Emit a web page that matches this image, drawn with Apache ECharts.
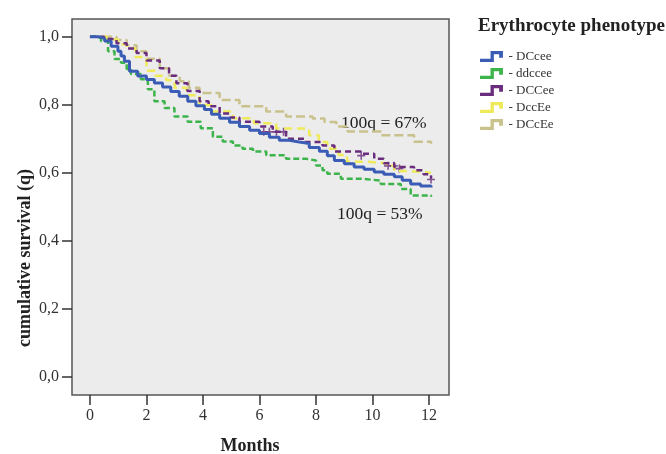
<!DOCTYPE html>
<html>
<head>
<meta charset="utf-8">
<script src="https://cdn.jsdelivr.net/npm/echarts@6/dist/echarts.min.js"></script>
<style>html,body{margin:0;padding:0;background:#fff}#c{width:666px;height:454px}</style>
</head>
<body>
<div id="c"></div>
<script>
var seriesNames = ['DCcee', 'ddccee', 'DCCee', 'DccEe', 'DCcEe'];
var xTicks = [0, 2, 4, 6, 8, 10, 12];
var yTicks = [0, 0.2, 0.4, 0.6, 0.8, 1.0];
var xAxisTitle = 'Months';
var yAxisTitle = 'cumulative survival (q)';

var dCcee = [[0,1],[0.3,0.995],[0.52,0.987],[0.75,0.972],[0.99,0.957],[1.1,0.943],[1.22,0.928],[1.4,0.898],[1.69,0.884],[2.0,0.874],[2.28,0.864],[2.57,0.852],[2.86,0.839],[3.16,0.825],[3.46,0.81],[3.75,0.797],[4.05,0.786],[4.3,0.772],[4.59,0.76],[4.94,0.748],[5.29,0.736],[5.65,0.725],[6.0,0.715],[6.35,0.704],[6.7,0.695],[7.05,0.69],[7.41,0.686],[7.76,0.674],[8.12,0.663],[8.4,0.65],[8.65,0.636],[9.0,0.626],[9.35,0.617],[9.7,0.61],[10.06,0.602],[10.4,0.595],[10.77,0.588],[11.05,0.578],[11.35,0.567],[11.7,0.561],[12.07,0.556]];
var ddccee = [[0,1],[0.25,0.995],[0.39,0.987],[0.64,0.957],[0.87,0.934],[1.1,0.923],[1.3,0.905],[1.45,0.89],[1.8,0.875],[2.05,0.845],[2.28,0.81],[2.64,0.79],[2.99,0.765],[3.46,0.75],[3.92,0.731],[4.35,0.706],[4.7,0.692],[5.06,0.68],[5.4,0.67],[5.77,0.662],[6.24,0.651],[6.94,0.641],[7.64,0.636],[8.0,0.621],[8.23,0.607],[8.4,0.597],[8.88,0.582],[9.59,0.577],[10.29,0.567],[11.0,0.552],[11.35,0.533],[12.07,0.529]];
var dCCee = [[0,1],[0.5,0.993],[0.94,0.981],[1.3,0.965],[1.65,0.952],[2.0,0.93],[2.47,0.907],[2.8,0.885],[3.06,0.863],[3.45,0.84],[3.88,0.81],[4.2,0.795],[4.59,0.774],[4.94,0.762],[5.29,0.75],[6.0,0.736],[6.47,0.72],[6.94,0.7],[7.64,0.69],[8.23,0.68],[8.65,0.662],[9.59,0.656],[10.06,0.641],[10.4,0.628],[10.77,0.617],[11.47,0.607],[11.8,0.595],[12.07,0.582]];
var dccEe = [[0,1],[0.6,0.992],[1.0,0.978],[1.3,0.966],[1.6,0.94],[2.0,0.9],[2.3,0.885],[2.7,0.872],[3.0,0.85],[3.42,0.828],[3.88,0.799],[4.3,0.78],[5.06,0.76],[5.8,0.745],[6.59,0.73],[7.41,0.73],[7.76,0.71],[8.1,0.69],[8.4,0.67],[8.8,0.652],[9.1,0.632],[9.8,0.628],[10.5,0.62],[10.77,0.605],[11.3,0.6],[12.07,0.6]];
var dCcEe = [[0,1],[0.94,0.99],[1.3,0.975],[1.65,0.957],[2.0,0.935],[2.47,0.907],[2.8,0.885],[3.18,0.869],[3.5,0.85],[3.88,0.834],[4.59,0.814],[5.29,0.795],[6.24,0.78],[6.94,0.765],[7.88,0.759],[8.3,0.749],[8.72,0.736],[9.12,0.721],[10.3,0.71],[11.47,0.691],[12.07,0.685]];
var dCCeeCensored = [[6.15,0.72],[6.35,0.72],[6.6,0.72],[6.85,0.72],[9.6,0.65],[10.55,0.62],[10.75,0.62],[10.95,0.612],[12.07,0.58]];

var fontSerif = '"Liberation Serif", "DejaVu Serif", serif';
var colors = ['#3a5cb5', '#3cb44b', '#6a2c7c', '#eeea5a', '#c9c28c'];
var stepIcon = 'path://M0,8 L11,8 L11,0 L24,0 L24,7 L20,7 L20,3.5 L14.5,3.5 L14.5,11.5 L0,11.5 Z';
var plusSym = 'path://M4,0 L6,0 L6,4 L10,4 L10,6 L6,6 L6,10 L4,10 L4,6 L0,6 L0,4 L4,4 Z';

function lineSeries(name, data, color, width, type) {
  return {
    name: name, type: 'line', step: 'end', data: data, symbol: 'none',
    lineStyle: { color: color, width: width, type: type },
    itemStyle: { color: color }, silent: true
  };
}

var chart = echarts.init(document.getElementById('c'), null, { renderer: 'canvas' });
chart.setOption({
  animation: false,
  backgroundColor: '#ffffff',
  grid: { left: 72, top: 19, right: 217, bottom: 59, outerBoundsMode: 'none', containLabel: false,
    show: true, backgroundColor: '#ececec', borderColor: '#555555', borderWidth: 1.5 },
  title: {
    text: 'Erythrocyte phenotype', left: 473, top: 12,
    textStyle: { fontFamily: fontSerif, fontWeight: 'bold', fontSize: 19, color: '#222' }
  },
  legend: {
    orient: 'vertical', left: 475, top: 45, itemWidth: 24, itemHeight: 11, itemGap: 4,
    data: seriesNames.map(function (n, i) { return { name: n, icon: stepIcon, itemStyle: { color: colors[i] } }; }),
    formatter: function (n) { return '- ' + n; },
    textStyle: { fontFamily: fontSerif, fontSize: 13, color: '#333' }
  },
  xAxis: {
    type: 'value', min: -0.635, max: 12.706,
    axisLine: { show: false, onZero: false },
    axisTick: { show: true, inside: false, length: 10, customValues: xTicks, lineStyle: { color: '#333', width: 1.5 } },
    axisLabel: { customValues: xTicks, margin: 13, fontFamily: fontSerif, fontSize: 16, color: '#333' },
    splitLine: { show: false }
  },
  yAxis: {
    type: 'value', min: -0.054, max: 1.052,
    axisLine: { show: false, onZero: false },
    axisTick: { show: true, inside: false, length: 10, customValues: yTicks, lineStyle: { color: '#333', width: 1.5 } },
    axisLabel: { customValues: yTicks, margin: 13, fontFamily: fontSerif, fontSize: 16, color: '#333',
      formatter: function (v) { return v.toFixed(1).replace('.', ','); } },
    splitLine: { show: false }
  },
  graphic: [
    { type: 'text', x: 250, y: 446, silent: true,
      style: { text: xAxisTitle, font: 'bold 18px ' + fontSerif, fill: '#222', align: 'center', verticalAlign: 'middle' } },
    { type: 'text', x: 25, y: 258, rotation: Math.PI / 2, silent: true,
      style: { text: yAxisTitle, font: 'bold 18px ' + fontSerif, fill: '#222', align: 'center', verticalAlign: 'middle' } },
    { type: 'text', left: 341, top: 114, silent: true, style: { text: '100q = 67%', font: '17.5px ' + fontSerif, fill: '#222' } },
    { type: 'text', left: 337, top: 205, silent: true, style: { text: '100q = 53%', font: '17.5px ' + fontSerif, fill: '#222' } }
  ],
  series: [
    lineSeries('DCcEe', dCcEe, colors[4], 2.5, [9, 4]),
    lineSeries('DccEe', dccEe, colors[3], 2.5, [8, 5]),
    lineSeries('DCCee', dCCee, colors[2], 2.5, [6, 4]),
    lineSeries('ddccee', ddccee, colors[1], 2.5, [6, 3]),
    lineSeries('DCcee', dCcee, colors[0], 3, 'solid'),
    { name: 'DCCee censored', type: 'scatter', data: dCCeeCensored, symbol: plusSym, symbolSize: 8,
      itemStyle: { color: colors[2] }, silent: true }
  ]
});
</script>
</body>
</html>
